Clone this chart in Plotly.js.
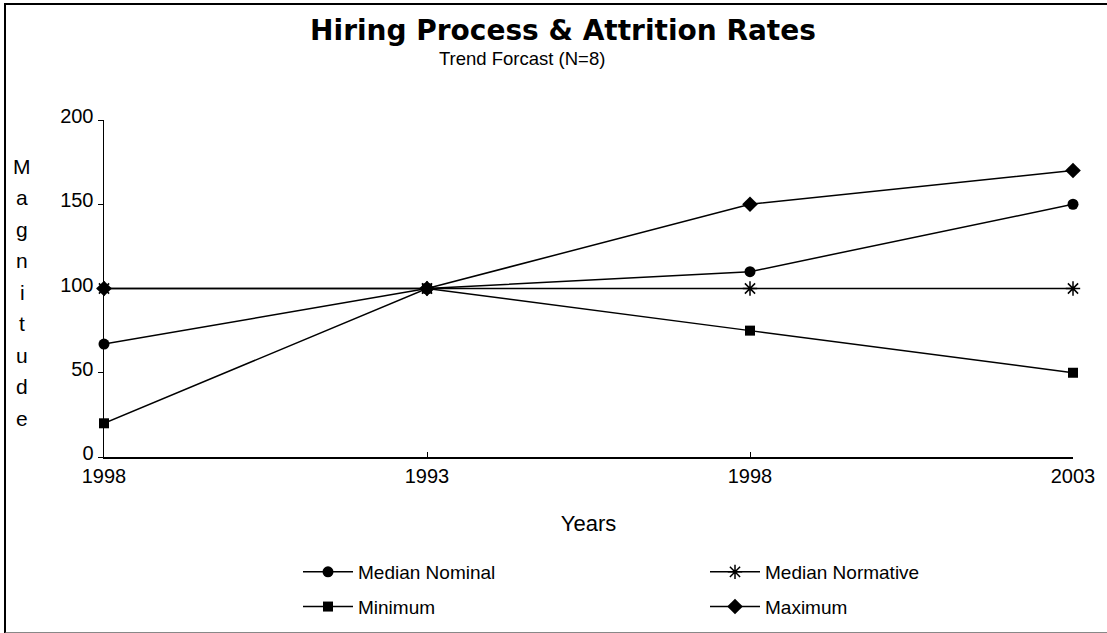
<!DOCTYPE html>
<html>
<head>
<meta charset="utf-8">
<script src="https://cdn.plot.ly/plotly-3.0.1.min.js"></script>
<style>
html,body{margin:0;padding:0;background:#fff;}
#frame{position:absolute;left:4px;top:3px;width:1103px;height:627px;border-left:2px solid #000;border-top:2px solid #000;border-bottom:2px solid #888;}
#chart{position:absolute;left:0;top:0;width:1107px;height:633px;}
</style>
</head>
<body>
<div id="frame"></div>
<div id="chart"></div>
<script>
const tickLabels = ["1998", "1993", "1998", "2003"];
const xPos = [0, 1, 2, 3];
const medianNominal = [67, 100, 110, 150];
const medianNormative = [100, 100, 100, 100];
const minimum = [20, 100, 75, 50];
const maximum = [100, 100, 150, 170];
const yTicks = [0, 50, 100, 150, 200];
const yTitle = "Magnitude";

const font = '"Liberation Sans", Arial, sans-serif';
const lineStyle = {color: '#000', width: 1.5};

function tr(name, y, symbol, size, legend) {
  return {
    x: xPos, y: y, name: name, type: 'scatter', mode: 'lines+markers',
    line: lineStyle, legend: legend, legendgroup: name,
    marker: {symbol: symbol, size: size, color: '#000', line: {color: '#000', width: symbol.indexOf('open') >= 0 ? 1.5 : 0}},
    cliponaxis: false
  };
}

const data = [
  tr('Median Nominal', medianNominal, 'circle', 11, 'legend'),
  tr('Median Normative', medianNormative, 'asterisk-open', 12, 'legend2'),
  tr('Minimum', minimum, 'square', 10, 'legend'),
  tr('Maximum', maximum, 'diamond', 12, 'legend2')
];

function px2x(p) { return (p - 104) / 969; }
function px2y(p) { return (457 - p) / 337; }

const legendBase = {
  orientation: 'v', xanchor: 'left', yanchor: 'top',
  y: px2y(553),
  font: {family: font, size: 19, color: '#000'},
  bgcolor: 'rgba(0,0,0,0)', traceorder: 'grouped', tracegroupgap: 7,
  itemwidth: 50
};

const annotations = [
  {
    text: 'Trend Forcast (N=8)', xref: 'paper', yref: 'paper',
    x: px2x(522), y: px2y(58), xanchor: 'center', yanchor: 'middle',
    showarrow: false, font: {family: font, size: 18.5, color: '#000'}
  }
];
yTitle.split('').forEach(function (ch, i) {
  annotations.push({
    text: ch, xref: 'paper', yref: 'paper',
    x: px2x(22), y: px2y(166 + i * 31.5), xanchor: 'center', yanchor: 'middle',
    showarrow: false, font: {family: font, size: 21, color: '#000'}
  });
});

const layout = {
  width: 1107, height: 633,
  margin: {l: 104, r: 34, t: 120, b: 176, autoexpand: false},
  paper_bgcolor: 'rgba(0,0,0,0)',
  plot_bgcolor: 'rgba(0,0,0,0)',
  font: {family: font, color: '#000', size: 20},
  title: {
    text: 'Hiring Process & Attrition Rates',
    font: {family: '"DejaVu Sans", sans-serif', size: 28, weight: 'bold', color: '#000'},
    x: 563 / 1107, xanchor: 'center', xref: 'container',
    y: 1 - 30 / 633, yanchor: 'middle'
  },
  xaxis: {
    range: [0, 3],
    tickvals: xPos, ticktext: tickLabels,
    showgrid: false, zeroline: false,
    showline: true, linecolor: '#000', linewidth: 1.5,
    ticks: 'inside', ticklen: 5, tickcolor: '#000', tickwidth: 1,
    tickfont: {family: font, size: 20, color: '#000'},
    title: {text: 'Years', font: {family: font, size: 22, color: '#000'}, standoff: 30},
    automargin: false,
    fixedrange: true
  },
  yaxis: {
    range: [0, 200],
    tickvals: yTicks,
    showgrid: false, zeroline: false,
    showline: true, linecolor: '#000', linewidth: 1.5,
    ticks: 'outside', ticklen: 5, tickcolor: '#000', tickwidth: 1,
    ticklabelshift: -4,
    tickfont: {family: font, size: 20, color: '#000'},
    automargin: false,
    fixedrange: true
  },
  showlegend: true,
  legend: Object.assign({}, legendBase, {x: px2x(298)}),
  legend2: Object.assign({}, legendBase, {x: px2x(705)}),
  annotations: annotations
};

Plotly.newPlot('chart', data, layout, {displayModeBar: false, staticPlot: true});
</script>
</body>
</html>
